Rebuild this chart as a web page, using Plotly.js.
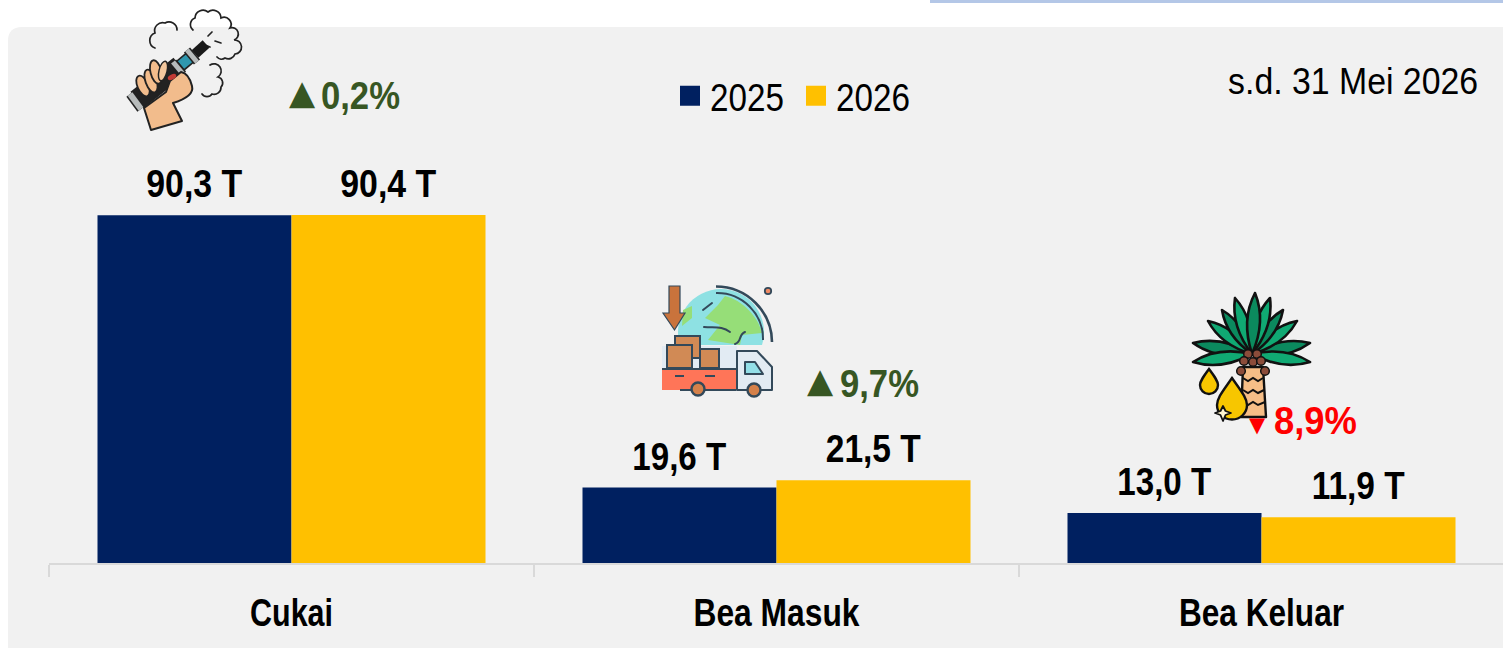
<!DOCTYPE html>
<html>
<head>
<meta charset="utf-8">
<script src="https://cdn.plot.ly/plotly-3.0.1.min.js"></script>
<style>
html,body{margin:0;padding:0;background:#fff;overflow:hidden;width:1503px;height:648px}
#chart{width:1504px;height:648px}
</style>
</head>
<body>
<div id="chart"></div>
<script>
var categories = ['Cukai', 'Bea Masuk', 'Bea Keluar'];
var values2025 = [90.3, 19.6, 13.0];
var values2026 = [90.4, 21.5, 11.9];
var labels2025 = ['90,3 T', '19,6 T', '13,0 T'];
var labels2026 = ['90,4 T', '21,5 T', '11,9 T'];
var seriesNames = ['2025', '2026'];
var deltaTexts = ['0,2%', '9,7%', '8,9%'];
var deltaMarks = ['\u25B2', '\u25B2', '\u25BC'];
var periodNote = 's.d. 31 Mei 2026';

var textWidths = {
  '90,3 T': 96, '90,4 T': 96, '19,6 T': 94, '21,5 T': 95, '13,0 T': 94, '11,9 T': 93,
  '0,2%': 79, '9,7%': 79, '8,9%': 83, 's.d. 31 Mei 2026': 250,
  '2025': 74, '2026': 74, 'Cukai': 83, 'Bea Masuk': 166, 'Bea Keluar': 165
};

var NAVY = '#002060', GOLD = '#FFC000', GREEN = '#375623', RED = '#FF0000';
var FACE = '"Liberation Sans",Arial,sans-serif';
var L = 49, T = 0, W = 1455, H = 563;
function px(p){ return (p - L) / W; }
function py(p){ return 1 - (p - T) / H; }
function uri(vb, body){
  return 'data:image/svg+xml;charset=utf-8,' + encodeURIComponent(
    '<svg xmlns="http://www.w3.org/2000/svg" viewBox="' + vb + '">' + body + '</svg>');
}

/* ---------- icons (drawn in page pixel coordinates through their viewBox) ---------- */
function cloud(d){ return '<path d="' + d + '" fill="none" stroke="#222" stroke-width="1.7" stroke-linecap="round"/>'; }
var vapeSvg =
  cloud('M193 30 A7 7 0 0 1 195 18 A8 8 0 0 1 208 12 A8 8 0 0 1 221 18 A7 7 0 0 1 230 28 A6 6 0 0 1 234 40 A7 7 0 0 1 235 54 A7 7 0 0 1 225 58 A6 6 0 0 1 217 57') +
  cloud('M155 48 A8 8 0 0 1 155 33 A8 8 0 0 1 165 23 A8 8 0 0 1 177 30') +
  cloud('M210 65 A7 7 0 0 1 218 77 A6 6 0 0 1 221 87 A7 7 0 0 1 212 94 A6 6 0 0 1 202 94') +
  cloud('M212 32 L208 36 M215 41 L221 43 M205 45 L210 47') +
  '<path d="M137 100 L180 66" stroke="#222" stroke-width="21" fill="none"/>' +
  '<path d="M180 66 L193 55" stroke="#222" stroke-width="13" fill="none"/>' +
  '<path d="M181 65 L192 56" stroke="#2F97AE" stroke-width="10" fill="none"/>' +
  '<path d="M195 54 L206 44" stroke="#1a1a1a" stroke-width="10" fill="none"/>' +
  '<path d="M187 50 L197 62" stroke="#222" stroke-width="8" fill="none"/>' +
  '<path d="M187 50 L197 62" stroke="#B8BCBC" stroke-width="5" fill="none"/>' +
  '<path d="M173 62 L183 74" stroke="#222" stroke-width="8" fill="none"/>' +
  '<path d="M173 62 L183 74" stroke="#B8BCBC" stroke-width="5" fill="none"/>' +
  '<path d="M130 94 L141 109" stroke="#222" stroke-width="9" fill="none"/>' +
  '<path d="M130 94 L141 109" stroke="#B8BCBC" stroke-width="6" fill="none"/>' +
  '<path d="M144 108 L151 130 L182 121 L173 103 C186 99 194 94 192 86 C190 78 187 73 181 72 L170 81 L166 92 Z" fill="#F2BC8C" stroke="#222" stroke-width="2" stroke-linejoin="round"/>' +
  '<ellipse cx="143" cy="86" rx="5.5" ry="11" transform="rotate(-24 143 86)" fill="#F2BC8C" stroke="#222" stroke-width="1.8"/>' +
  '<ellipse cx="151" cy="81" rx="5.5" ry="12" transform="rotate(-20 151 81)" fill="#F2BC8C" stroke="#222" stroke-width="1.8"/>' +
  '<ellipse cx="156" cy="72" rx="5.5" ry="12" transform="rotate(-14 156 72)" fill="#F2BC8C" stroke="#222" stroke-width="1.8"/>' +
  '<ellipse cx="163" cy="71" rx="4" ry="10" transform="rotate(14 163 71)" fill="#F3C79D" stroke="#222" stroke-width="1.4"/>' +
  '<ellipse cx="172" cy="77" rx="4.5" ry="2.5" transform="rotate(-25 172 77)" fill="#C23B35"/>';

var D = '#33495A';
var truckSvg =
  '<path d="M680 345 A43 43 0 1 1 762 345 Z" fill="#8EE1E3"/>' +
  '<path d="M725 296 C742 300 758 316 762 333 L742 335 L740 345 L708 340 L720 325 L705 318 L718 305 Z" fill="#96DE78"/>' +
  '<path d="M683 310 L692 306 L692 318 L682 326 Z" fill="#96DE78"/>' +
  '<path d="M703 310 L712 303 M704 327 C715 328 722 326 730 332 M745 332 C738 335 742 342 735 344" stroke="' + D + '" stroke-width="2" fill="none" stroke-linecap="round"/>' +
  '<path d="M716 286.5 A56 56 0 0 1 772 342" stroke="' + D + '" stroke-width="2.6" fill="none"/>' +
  '<path d="M716 293 A46 46 0 0 1 763 340" stroke="' + D + '" stroke-width="2" fill="none"/>' +
  '<circle cx="768" cy="291" r="3.2" fill="#F08A63" stroke="' + D + '" stroke-width="1.8"/>' +
  '<path d="M669 286 H680 V313 H685 L674.5 330 L663 313 H669 Z" fill="#C9733C" stroke="' + D + '" stroke-width="1.2"/>' +
  '<rect x="662" y="346" width="75" height="26" fill="#E2EBF3"/>' +
  '<rect x="675" y="336" width="25" height="22" fill="#D18A55" stroke="' + D + '" stroke-width="2"/>' +
  '<rect x="667" y="345" width="25" height="23" fill="#D18A55" stroke="' + D + '" stroke-width="2"/>' +
  '<rect x="700" y="349" width="19" height="19" fill="#D18A55" stroke="' + D + '" stroke-width="2"/>' +
  '<rect x="662" y="370" width="74" height="20" fill="#FF7558"/>' +
  '<path d="M662 369 H736 M736 390 H680" stroke="' + D + '" stroke-width="2" fill="none"/>' +
  '<path d="M675 376 H684 M705 376 H715" stroke="' + D + '" stroke-width="2" fill="none"/>' +
  '<path d="M737 351 H757 L772 367 V390 H737 Z" fill="#E2EBF3" stroke="' + D + '" stroke-width="2" stroke-linejoin="round"/>' +
  '<path d="M745 362 H755 L763 374 H745 Z" fill="#93DFE8" stroke="' + D + '" stroke-width="2" stroke-linejoin="round"/>' +
  '<circle cx="698" cy="389" r="6.5" fill="#D5814A" stroke="' + D + '" stroke-width="2.4"/>' +
  '<circle cx="754" cy="390" r="6.5" fill="#D5814A" stroke="' + D + '" stroke-width="2.4"/>';

var crown = [1252, 354];
function leaf(tx, ty, fill){
  var cx = crown[0], cy = crown[1], dx = tx - cx, dy = ty - cy, s = 0.21;
  var mx = cx + dx * 0.55, my = cy + dy * 0.55;
  return '<path d="M' + cx + ' ' + cy + ' Q' + (mx - dy * s) + ' ' + (my + dx * s) + ' ' + tx + ' ' + ty +
    ' Q' + (mx + dy * s) + ' ' + (my - dx * s) + ' ' + cx + ' ' + cy + ' Z" fill="' + fill + '" stroke="#111" stroke-width="2.6" stroke-linejoin="round"/>';
}
var palmSvg = '';
[[1193,343,'#0B8A5E'],[1310,343,'#0B8A5E'],[1193,362,'#10A973'],[1310,362,'#10A973'],
 [1208,321,'#10A973'],[1297,321,'#10A973'],[1222,310,'#0B8A5E'],[1283,310,'#0B8A5E'],
 [1235,298,'#10A973'],[1270,298,'#10A973'],[1255,293,'#0B8A5E']].forEach(function(l){ palmSvg += leaf(l[0], l[1], l[2]); });
palmSvg +=
  '<path d="M1243 367 H1263 L1266 417 H1241 Z" fill="#F6BE87" stroke="#111" stroke-width="2.4" stroke-linejoin="round"/>' +
  '<path d="M1243 378 l5 3 l5 -3 l5 3 l5 -3 M1243 390 l5 3 l5 -3 l5 3 l6 -3 M1242 402 l6 3 l5 -3 l5 3 l7 -3" fill="none" stroke="#111" stroke-width="2"/>' +
  [[1248,354],[1257,354],[1244,361],[1253,362],[1261,361],[1241,371],[1265,371]].map(function(c){
    return '<circle cx="' + c[0] + '" cy="' + c[1] + '" r="4.3" fill="#8B4C3A" stroke="#111" stroke-width="1.5"/>';
  }).join('') +
  '<path d="M1209 369 C1215 377 1218 381 1218 385 A9 9 0 0 1 1200 385 C1200 381 1203 377 1209 369 Z" fill="#F7C600" stroke="#111" stroke-width="2.4"/>' +
  '<path d="M1232 378 C1241 391 1247 398 1247 405 A15 14.5 0 0 1 1217 405 C1217 398 1223 391 1232 378 Z" fill="#F7C600" stroke="#111" stroke-width="2.4"/>' +
  '<path d="M1223 406 L1225.5 411 L1231 413 L1225.5 415 L1223 421 L1220.5 415 L1215 413 L1220.5 411 Z" fill="#FFF6D0" stroke="#111" stroke-width="1.8" stroke-linejoin="round"/>';

function iconImage(src, x0, y0, x1, y1){
  return {source: src, xref: 'paper', yref: 'paper', x: px(x0), y: py(y0),
          sizex: (x1 - x0) / W, sizey: (y1 - y0) / H,
          xanchor: 'left', yanchor: 'top', sizing: 'stretch', layer: 'above'};
}

/* ---------- text annotations ---------- */
var annotations = [];
var LABEL_FONT = {family: FACE, size: 39, color: '#000', weight: 700};
function barLabel(i, offset, value, text){
  annotations.push({x: i + offset, y: value, xref: 'x', yref: 'y', text: text, showarrow: false,
    xanchor: 'center', yanchor: 'bottom', yshift: 9, font: LABEL_FONT, borderpad: 0});
}
categories.forEach(function(c, i){
  barLabel(i, -0.2, values2025[i], labels2025[i]);
  barLabel(i, 0.2, values2026[i], labels2026[i]);
});
function pixelText(x, y, text, font){
  annotations.push({xref: 'paper', yref: 'paper', x: px(x), y: py(y), text: text, showarrow: false,
    xanchor: 'center', yanchor: 'middle', font: font, borderpad: 0});
}
pixelText(360.5, 95.5, deltaTexts[0], {family: FACE, size: 39, color: GREEN, weight: 700});
pixelText(879.5, 383.5, deltaTexts[1], {family: FACE, size: 39, color: GREEN, weight: 700});
pixelText(1315.5, 420.5, deltaTexts[2], {family: FACE, size: 39, color: RED, weight: 700});
pixelText(302, 92, deltaMarks[0], {family: 'DejaVu Sans', size: 34, color: GREEN});
pixelText(820.5, 380, deltaMarks[1], {family: 'DejaVu Sans', size: 34, color: GREEN});
pixelText(1257, 425, deltaMarks[2], {family: 'DejaVu Sans', size: 21, color: RED});
pixelText(1353, 81, periodNote, {family: FACE, size: 36, color: '#000'});

/* ---------- background panel and top rule ---------- */
function P(x, y){ return px(x) + ' ' + py(y); }
var shapes = [
  {type: 'path', xref: 'paper', yref: 'paper', layer: 'below', line: {width: 0}, fillcolor: '#F1F1F1',
   path: 'M' + P(8, 41) + ' Q' + P(8, 27) + ' ' + P(22, 27) + ' L' + P(1504, 27) + ' L' + P(1504, 648) + ' L' + P(8, 648) + ' Z'},
  {type: 'rect', xref: 'paper', yref: 'paper', layer: 'below', line: {width: 0}, fillcolor: '#B4C7E7',
   x0: px(930), x1: px(1504), y0: py(3), y1: py(0)}
];

var traces = [
  {type: 'bar', name: seriesNames[0], x: categories, y: values2025, marker: {color: NAVY}, hoverinfo: 'x+y+name'},
  {type: 'bar', name: seriesNames[1], x: categories, y: values2026, marker: {color: GOLD}, hoverinfo: 'x+y+name'}
];

var layout = {
  width: 1504, height: 648,
  margin: {l: L, r: 0, t: T, b: 648 - H, pad: 0},
  paper_bgcolor: '#FFFFFF', plot_bgcolor: 'rgba(0,0,0,0)',
  barmode: 'group', bargap: 0.2, bargroupgap: 0,
  showlegend: true,
  legend: {orientation: 'h', x: px(670), y: py(96), xanchor: 'left', yanchor: 'middle',
           font: {family: FACE, size: 38, color: '#000'}, bgcolor: 'rgba(0,0,0,0)',
           borderwidth: 0, traceorder: 'normal', entrywidth: 81, entrywidthmode: 'pixels'},
  xaxis: {type: 'category', range: [-0.5, 2.5], showgrid: false, zeroline: false,
          showline: true, linecolor: '#D9D9D9', linewidth: 2,
          ticks: 'outside', tickson: 'boundaries', ticklen: 12, tickcolor: '#D9D9D9', tickwidth: 2,
          ticklabelstandoff: 14,
          tickfont: {family: FACE, size: 39, color: '#000', weight: 700}, automargin: false},
  yaxis: {range: [0, H / 3.85], visible: false, fixedrange: true},
  annotations: annotations,
  shapes: shapes,
  images: [
    iconImage(uri('120 0 130 135', vapeSvg), 120, 0, 250, 135),
    iconImage(uri('655 280 125 125', truckSvg), 655, 280, 780, 405),
    iconImage(uri('1185 285 135 145', palmSvg), 1185, 285, 1320, 430)
  ],
  hovermode: 'closest'
};

function refine(){
  var root = document.getElementById('chart');
  root.querySelectorAll('svg text').forEach(function(t){
    var w = textWidths[t.textContent];
    if (w) { t.setAttribute('textLength', w); t.setAttribute('lengthAdjust', 'spacingAndGlyphs'); }
  });
  root.querySelectorAll('.legendpoints path').forEach(function(p){
    p.setAttribute('d', 'M10,10H-10V-10H10Z');
  });
}

Plotly.newPlot('chart', traces, layout, {displayModeBar: false}).then(function(gd){
  refine();
  gd.on('plotly_afterplot', refine);
});
</script>
</body>
</html>
